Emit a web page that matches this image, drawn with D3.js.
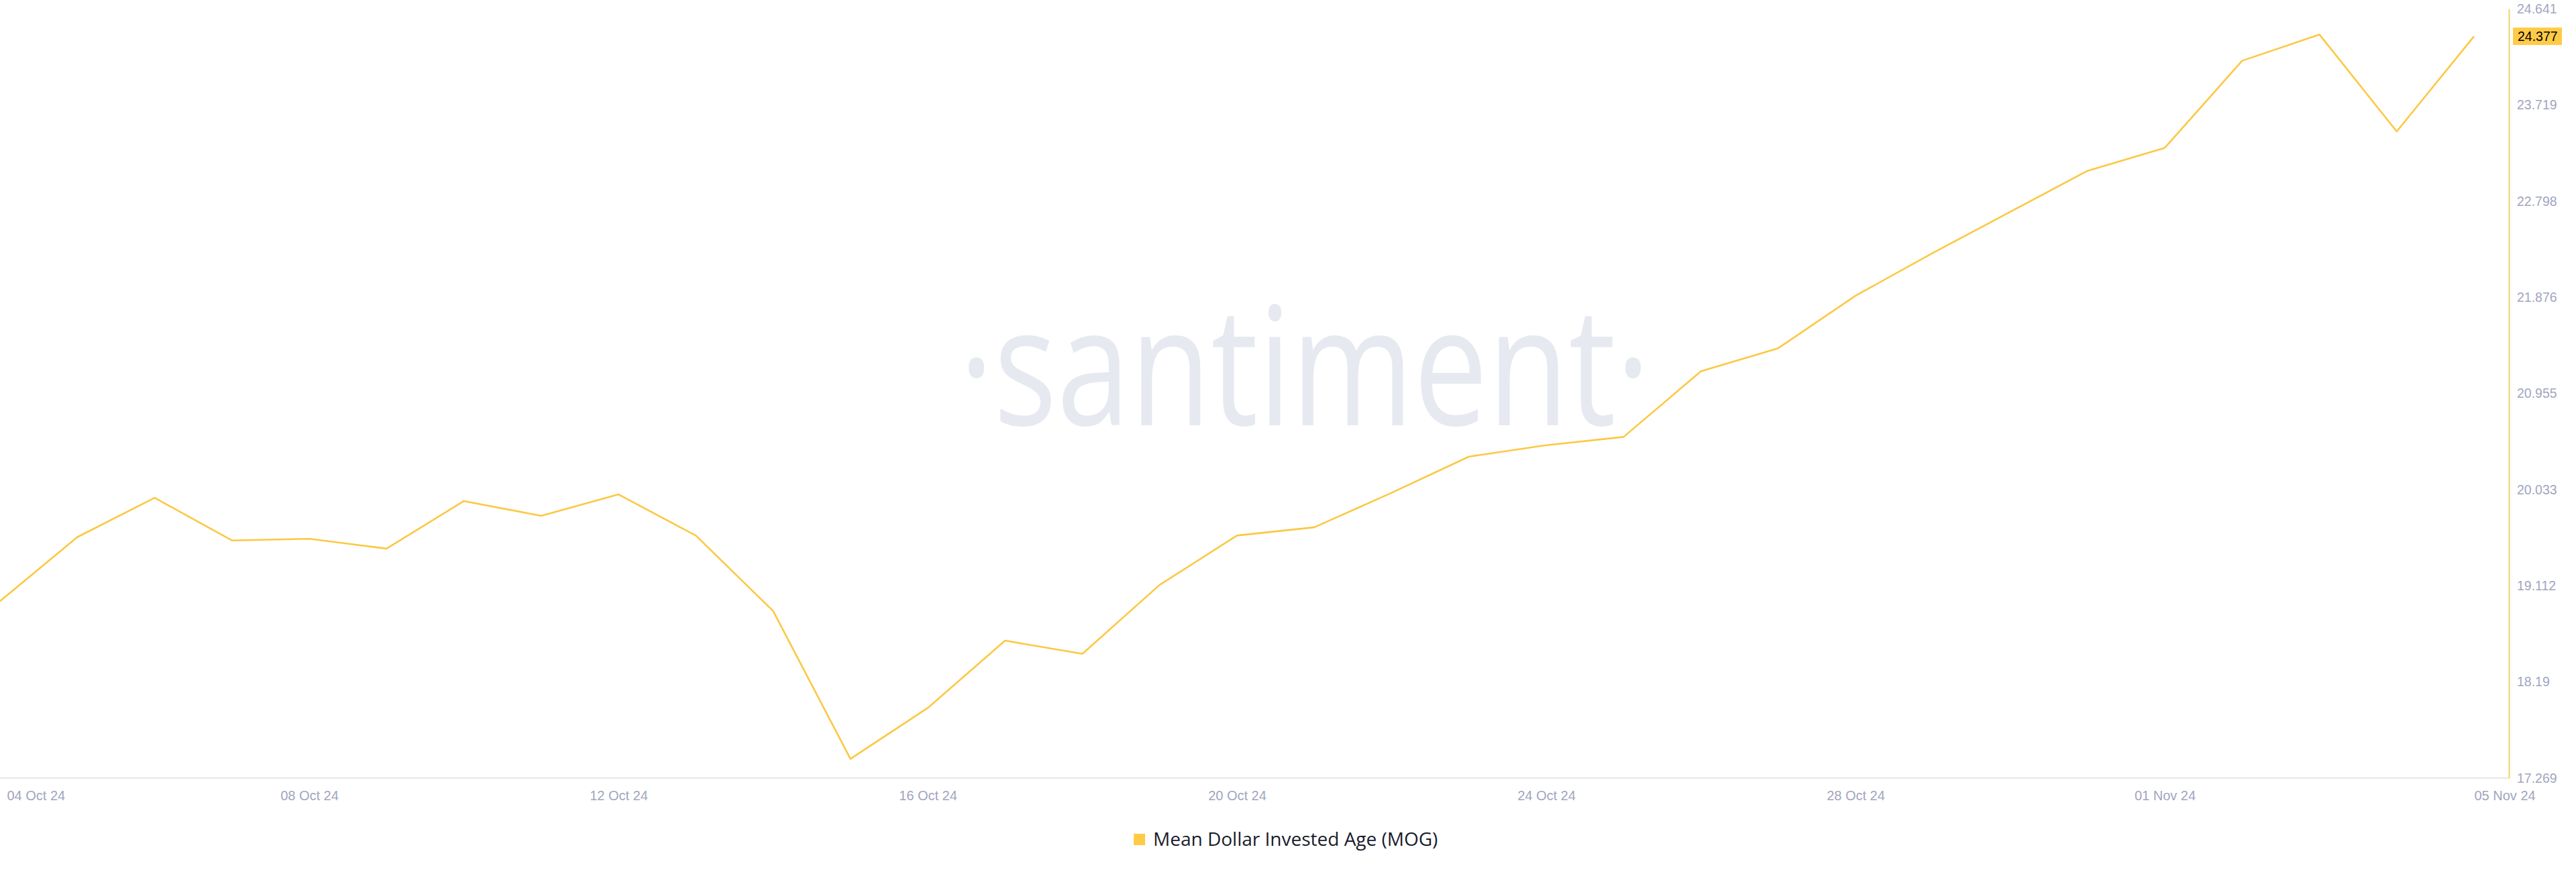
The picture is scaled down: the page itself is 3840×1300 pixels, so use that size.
<!DOCTYPE html>
<html>
<head>
<meta charset="utf-8">
<script src="https://cdn.jsdelivr.net/npm/d3@7"></script>
<style>
  html, body { margin: 0; padding: 0; background: #ffffff; }
  svg { display: block; }
</style>
</head>
<body>
<svg id="chart" width="3840" height="1300"></svg>
<script>
// ---- data ----
const dates = [
  "2024-10-04","2024-10-05","2024-10-06","2024-10-07","2024-10-08","2024-10-09","2024-10-10",
  "2024-10-11","2024-10-12","2024-10-13","2024-10-14","2024-10-15","2024-10-16","2024-10-17",
  "2024-10-18","2024-10-19","2024-10-20","2024-10-21","2024-10-22","2024-10-23","2024-10-24",
  "2024-10-25","2024-10-26","2024-10-27","2024-10-28","2024-10-29","2024-10-30","2024-10-31",
  "2024-11-01","2024-11-02","2024-11-03","2024-11-04","2024-11-05"
];
const mdia = [
  18.964, 19.578, 19.955, 19.546, 19.562, 19.468, 19.924,
  19.782, 19.987, 19.593, 18.870, 17.453, 17.941, 18.586,
  18.460, 19.121, 19.593, 19.672, 20.003, 20.349, 20.459,
  20.538, 21.167, 21.388, 21.891, 22.301, 22.694, 23.088,
  23.308, 24.142, 24.394, 23.465, 24.377
];
const xTickDates = ["2024-10-04","2024-10-08","2024-10-12","2024-10-16","2024-10-20","2024-10-24","2024-10-28","2024-11-01","2024-11-05"];
const xTickLabels = ["04 Oct 24","08 Oct 24","12 Oct 24","16 Oct 24","20 Oct 24","24 Oct 24","28 Oct 24","01 Nov 24","05 Nov 24"];
const yTickValues = [17.269, 18.1905, 19.112, 20.0335, 20.955, 21.8765, 22.798, 23.7195, 24.641];
const yTickLabels = ["17.269","18.19","19.112","20.033","20.955","21.876","22.798","23.719","24.641"];
const currentValue = 24.377;
const currentLabel = "24.377";
const seriesName = "Mean Dollar Invested Age (MOG)";

// ---- layout ----
const parse = d3.utcParse("%Y-%m-%d");
const data = dates.map((d, i) => ({ date: parse(d), value: mdia[i] }));
const svg = d3.select("#chart");
const axisX = 3740, plotTop = 13, plotBottom = 1160;
const lineColor = "#fcc843";
const tickColor = "#a1a5be";
const tickFont = "'Liberation Sans', Arial, Helvetica, sans-serif";

const x = d3.scaleUtc().domain([parse(dates[0]), parse(dates[dates.length - 1])]).range([0, 3688]);
const y = d3.scaleLinear().domain([yTickValues[0], yTickValues[yTickValues.length - 1]]).range([plotBottom, plotTop]);

// watermark
svg.append("text")
  .attr("transform", `translate(1945,634) scale(0.80,1)`)
  .attr("text-anchor", "middle")
  .attr("font-family", "'Open Sans', sans-serif")
  .attr("font-size", 246)
  .attr("fill", "#e7e9f1")
  .text("\u00B7santiment\u00B7");

// bottom baseline
svg.append("line")
  .attr("x1", 0).attr("x2", axisX)
  .attr("y1", plotBottom).attr("y2", plotBottom)
  .attr("stroke", "#e6e7ec").attr("stroke-width", 2);

// x axis
const xAxis = d3.axisBottom(x)
  .tickValues(xTickDates.map(parse))
  .tickFormat((d, i) => xTickLabels[i])
  .tickSize(0).tickPadding(19);
const gx = svg.append("g").attr("transform", `translate(0,${plotBottom})`).call(xAxis);
gx.select(".domain").remove();
gx.selectAll("text")
  .attr("font-family", tickFont).attr("font-size", 20).attr("fill", tickColor);
const xt = gx.selectAll(".tick text");
xt.filter((d, i) => i === 0).attr("text-anchor", "start").attr("dx", 10);
xt.filter((d, i) => i === xTickDates.length - 1).attr("text-anchor", "start");

// y axis (right)
const yAxis = d3.axisRight(y)
  .tickValues(yTickValues)
  .tickFormat((d, i) => yTickLabels[i])
  .tickSize(0).tickPadding(12);
const gy = svg.append("g").attr("transform", `translate(${axisX},0)`).call(yAxis);
gy.select(".domain").attr("stroke", "#f2d16b").attr("stroke-width", 2);
gy.selectAll("text")
  .attr("font-family", tickFont).attr("font-size", 19.5).attr("fill", tickColor);

// line
const line = d3.line().x(d => x(d.date)).y(d => y(d.value));
svg.append("path")
  .datum(data)
  .attr("fill", "none")
  .attr("stroke", lineColor)
  .attr("stroke-width", 2.6)
  .attr("stroke-linejoin", "round")
  .attr("d", line);

// current value badge
const cy = y(currentValue);
const badge = svg.append("g").attr("transform", `translate(${axisX + 6},${cy})`);
badge.append("rect").attr("x", 0).attr("y", -13).attr("width", 73).attr("height", 26).attr("fill", "#ffcb47");
badge.append("text").attr("x", 7).attr("dy", "0.35em")
  .attr("font-family", tickFont).attr("font-size", 19.5).attr("fill", "#000000")
  .text(currentLabel);

// legend
const legend = svg.append("g").attr("transform", "translate(1690,1251)");
legend.append("rect").attr("x", 0).attr("y", -8).attr("width", 17).attr("height", 17).attr("fill", "#ffcb47");
legend.append("text").attr("x", 29).attr("dy", "0.35em")
  .attr("font-family", "'Open Sans', Lato, sans-serif").attr("font-size", 28).attr("fill", "#1a1c2b")
  .text(seriesName);
</script>
</body>
</html>
